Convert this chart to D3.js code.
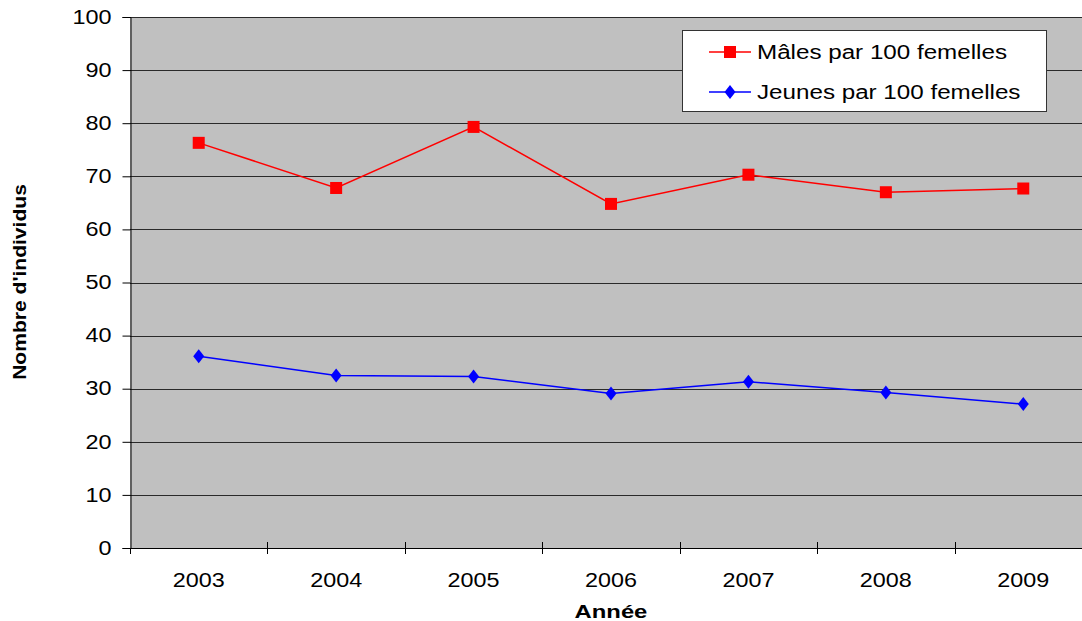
<!DOCTYPE html>
<html>
<head>
<meta charset="utf-8">
<script src="https://cdn.jsdelivr.net/npm/d3@7"></script>
<style>
  html, body { margin: 0; padding: 0; background: #fff; }
  svg { display: block; font-family: "Liberation Sans", Arial, sans-serif; }
</style>
</head>
<body>
<svg id="chart" width="1082" height="621"></svg>
<script>
// Ratios observed per year
const years = ["2003", "2004", "2005", "2006", "2007", "2008", "2009"];
const males = [76.3, 67.8, 79.3, 64.8, 70.3, 67.0, 67.7];
const young = [36.1, 32.5, 32.3, 29.1, 31.3, 29.3, 27.1];
const yTicks = [0, 10, 20, 30, 40, 50, 60, 70, 80, 90, 100];
const seriesNames = ["Mâles par 100 femelles", "Jeunes par 100 femelles"];

const svg = d3.select("#chart");
const plot = { left: 130, top: 17, right: 1092, bottom: 548 };

const x = d3.scaleBand().domain(years).range([plot.left, plot.right]);
const y = d3.scaleLinear().domain([0, 100]).range([plot.bottom, plot.top]);

// widen glyphs horizontally by factor k, keeping the anchor
function widen(sel, k) {
  sel.each(function () {
    const w = this.getComputedTextLength();
    d3.select(this).attr("textLength", w * k).attr("lengthAdjust", "spacingAndGlyphs");
  });
}

// plot background
svg.append("rect")
  .attr("x", plot.left).attr("y", plot.top)
  .attr("width", plot.right - plot.left).attr("height", plot.bottom - plot.top)
  .attr("fill", "#c0c0c0");

// horizontal gridlines
svg.append("g").selectAll("line")
  .data(yTicks.filter(d => d > 0))
  .join("line")
  .attr("x1", plot.left).attr("x2", plot.right)
  .attr("y1", d => Math.round(y(d)) + 0.5).attr("y2", d => Math.round(y(d)) + 0.5)
  .attr("stroke", "#2a2a2a").attr("stroke-width", 1);

// y axis
const yAxis = svg.append("g")
  .attr("transform", `translate(${plot.left + 0.5},0)`)
  .call(d3.axisLeft(y).tickValues(yTicks).tickSize(8).tickPadding(11));
yAxis.select(".domain").attr("stroke", "#000");
yAxis.selectAll(".tick line").attr("stroke", "#000");
yAxis.selectAll(".tick text")
  .attr("font-size", 19.5).attr("fill", "#000")
  .attr("font-family", "Liberation Sans, Arial, sans-serif")
  .call(widen, 1.2);

// x axis line
svg.append("line")
  .attr("x1", plot.left).attr("x2", plot.right)
  .attr("y1", plot.bottom + 0.5).attr("y2", plot.bottom + 0.5)
  .attr("stroke", "#000");

// x tick marks at band boundaries, crossing the axis
const bounds = years.map(d => x(d)).concat([plot.right]);
svg.append("g").selectAll("line")
  .data(bounds)
  .join("line")
  .attr("x1", d => Math.round(d) + 0.5).attr("x2", d => Math.round(d) + 0.5)
  .attr("y1", (d, i) => i === 0 ? plot.bottom : plot.bottom - 6)
  .attr("y2", plot.bottom + 6)
  .attr("stroke", "#000");

// x tick labels
svg.append("g").selectAll("text")
  .data(years)
  .join("text")
  .attr("x", d => x(d) + x.bandwidth() / 2)
  .attr("y", 587)
  .attr("text-anchor", "middle")
  .attr("font-size", 20.5)
  .text(d => d)
  .call(widen, 1.14);

// axis titles
svg.append("text")
  .attr("x", 611).attr("y", 618)
  .attr("text-anchor", "middle")
  .attr("font-size", 17.5).attr("font-weight", "bold")
  .text("Année")
  .call(widen, 1.36);
svg.append("text")
  .attr("transform", "translate(26,282) rotate(-90)")
  .attr("text-anchor", "middle")
  .attr("font-size", 18).attr("font-weight", "bold")
  .text("Nombre d'individus")
  .call(widen, 1.17);

const cx = d => x(d) + x.bandwidth() / 2;
const line = d3.line().x((d, i) => cx(years[i])).y(d => y(d));

// males series
svg.append("path").datum(males)
  .attr("d", line).attr("fill", "none")
  .attr("stroke", "#ff0000").attr("stroke-width", 1.5);
svg.append("g").selectAll("rect")
  .data(males)
  .join("rect")
  .attr("x", (d, i) => cx(years[i]) - 6)
  .attr("y", d => y(d) - 6)
  .attr("width", 12).attr("height", 12)
  .attr("fill", "#ff0000");

// young series
const diamond = (px, py) => `M${px},${py - 7}L${px + 5.5},${py}L${px},${py + 7}L${px - 5.5},${py}Z`;
svg.append("path").datum(young)
  .attr("d", line).attr("fill", "none")
  .attr("stroke", "#0000ff").attr("stroke-width", 1.5);
svg.append("g").selectAll("path")
  .data(young)
  .join("path")
  .attr("d", (d, i) => diamond(cx(years[i]), y(d)))
  .attr("fill", "#0000ff");

// legend
const lg = svg.append("g");
lg.append("rect")
  .attr("x", 682.5).attr("y", 30.5)
  .attr("width", 364).attr("height", 81)
  .attr("fill", "#fff").attr("stroke", "#333").attr("stroke-width", 1);
const rows = [
  { name: seriesNames[0], color: "#ff0000", shape: "square", cy: 52, base: 59 },
  { name: seriesNames[1], color: "#0000ff", shape: "diamond", cy: 92, base: 99 }
];
rows.forEach(r => {
  lg.append("line")
    .attr("x1", 709).attr("x2", 751)
    .attr("y1", r.cy).attr("y2", r.cy)
    .attr("stroke", r.color).attr("stroke-width", 1.5);
  if (r.shape === "square") {
    lg.append("rect").attr("x", 724).attr("y", r.cy - 6)
      .attr("width", 12).attr("height", 12).attr("fill", r.color);
  } else {
    lg.append("path").attr("d", diamond(730, r.cy)).attr("fill", r.color);
  }
  lg.append("text")
    .attr("x", 757).attr("y", r.base)
    .attr("font-size", 19.5)
    .text(r.name)
    .call(widen, 1.24);
});
</script>
</body>
</html>
